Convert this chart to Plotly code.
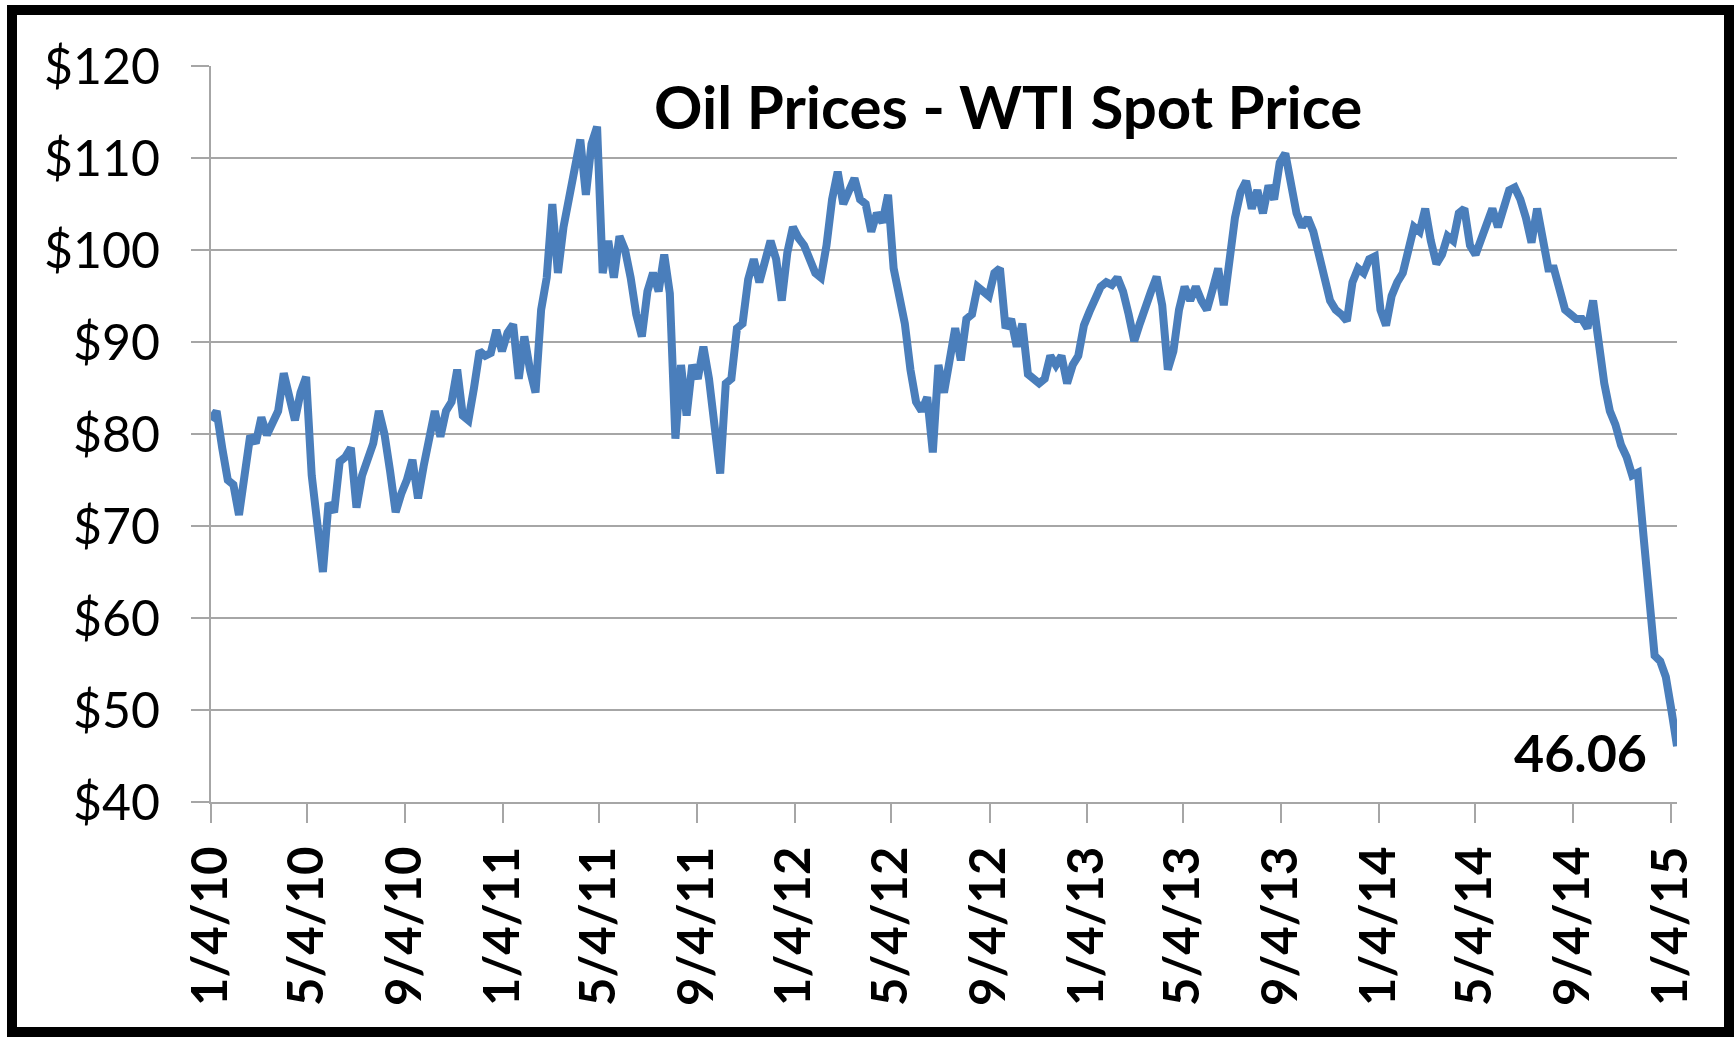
import pandas as pd
import plotly.graph_objects as go

# Weekly (Monday) WTI spot price readings, one list per year
wti_2010 = [81.5, 82.5, 78.5, 75.0,
            74.5, 71.2, 75.5, 79.8,
            79.0, 81.8, 79.9, 81.0, 82.5,
            86.6, 84.3, 81.5, 84.5,
            86.2, 75.5, 71.0, 65.0, 72.5,
            71.5, 77.0, 77.5, 78.5,
            72.0, 75.5, 77.0, 79.0,
            82.5, 80.0, 76.0, 71.5, 73.5,
            75.0, 77.2, 73.0, 76.5,
            80.0, 82.5, 79.7, 82.5,
            83.5, 87.0, 82.0, 81.5, 85.0,
            89.0, 88.5, 88.8, 91.3]
wti_2011 = [89.0, 91.0, 91.9, 86.0, 90.6,
            87.0, 84.5, 93.5, 97.0,
            105.0, 97.5, 102.5, 105.5,
            108.5, 112.0, 106.0, 111.5,
            113.4, 97.5, 101.0, 97.0, 101.5,
            100.0, 97.0, 93.0, 90.6,
            95.5, 97.5, 95.5, 99.5,
            95.3, 79.5, 87.5, 82.0, 87.5,
            86.0, 89.5, 86.0, 80.0,
            75.7, 85.5, 86.0, 91.5, 92.0,
            96.8, 99.0, 96.5, 99.0,
            101.0, 99.0, 94.5, 99.7]
wti_2012 = [102.5, 101.3, 100.5, 99.0, 97.5,
            97.0, 100.5, 105.5, 108.5,
            105.0, 106.5, 107.8, 105.5,
            105.0, 102.0, 104.0, 103.0, 106.0,
            98.0, 94.5, 92.0, 87.0,
            83.5, 82.5, 84.0, 78.0,
            87.5, 84.5, 88.5, 91.5, 88.0,
            92.5, 93.0, 96.0, 95.5,
            95.0, 97.5, 98.0, 91.5,
            92.5, 89.5, 92.0, 86.5, 86.0,
            85.5, 86.0, 88.5, 87.5,
            88.5, 85.5, 87.5, 88.5, 91.8]
wti_2013 = [93.3, 94.5, 96.0, 96.5,
            96.2, 97.0, 95.5, 93.0,
            90.1, 92.0, 93.5, 95.5,
            97.1, 94.0, 87.0, 89.0, 93.5,
            96.0, 94.5, 96.0, 94.5,
            93.5, 95.7, 98.0, 94.0,
            98.5, 103.5, 106.3, 107.5, 104.5,
            106.5, 104.0, 107.0, 105.5,
            109.5, 110.5, 107.5, 104.0, 102.5,
            103.5, 102.0, 99.0, 97.0,
            94.5, 93.5, 93.0, 92.3,
            96.5, 98.0, 97.5, 99.0, 99.3]
wti_2014 = [93.5, 91.8, 95.0, 96.5,
            97.5, 100.0, 102.5, 102.0,
            104.5, 101.0, 98.5, 99.5, 101.5,
            101.0, 104.0, 104.5, 100.5,
            99.5, 101.0, 103.0, 104.5,
            102.5, 104.5, 106.5, 106.8, 105.5,
            103.5, 100.8, 104.5, 101.5,
            98.0, 98.0, 95.5, 93.5,
            93.0, 92.5, 92.5, 91.5, 94.5,
            89.5, 85.5, 82.5, 81.0,
            78.8, 77.5, 75.5, 75.8,
            69.0, 63.1, 55.9, 55.3, 53.6]
wti_2015 = [50.0, 46.06]

tick_labels = ["1/4/10", "5/4/10", "9/4/10", "1/4/11", "5/4/11", "9/4/11",
               "1/4/12", "5/4/12", "9/4/12", "1/4/13", "5/4/13", "9/4/13",
               "1/4/14", "5/4/14", "9/4/14", "1/4/15"]

prices = wti_2010 + wti_2011 + wti_2012 + wti_2013 + wti_2014 + wti_2015
dates = pd.date_range("2010-01-04", "2015-01-12", freq="W-MON")
assert len(dates) == len(prices), (len(dates), len(prices))
df = pd.DataFrame({"Date": dates, "Price": prices})
tick_vals = pd.to_datetime(tick_labels, format="%m/%d/%y")

W, H = 1735, 1037
ML, MR, MT, MB = 211, 58, 66, 235
PW, PH = W - ML - MR, H - MT - MB
GRID = "#a6a6a6"
FONT = "Lato"

def px_to_paper(x, y):
    return (x - ML) / PW, 1 - (y - MT) / PH

fig = go.Figure()
fig.add_trace(go.Scatter(x=df["Date"], y=df["Price"], mode="lines",
                         line=dict(color="#4a7ebb", width=8)))

# value label on the last point
fig.add_annotation(x=df["Date"].iloc[-1], y=df["Price"].iloc[-1],
                   text=f"{df['Price'].iloc[-1]:.2f}", showarrow=False,
                   xanchor="right", yanchor="middle", xshift=-28, yshift=-6,
                   font=dict(family=FONT, size=52, color="black", weight="bold"))

tx, ty = px_to_paper(1008, 106)
fig.add_annotation(x=tx, y=ty, xref="paper", yref="paper", showarrow=False,
                   text="Oil Prices - WTI Spot Price", xanchor="center", yanchor="middle",
                   font=dict(family=FONT, size=60, color="black", weight="bold"))

# black frame round the chart
x0, y0 = px_to_paper(12, 10)
x1, y1 = px_to_paper(1729, 1032)
fig.add_shape(type="rect", xref="paper", yref="paper", x0=x0, y0=y1, x1=x1, y1=y0,
              line=dict(color="black", width=10))

fig.update_layout(
    width=W, height=H,
    margin=dict(l=ML, r=MR, t=MT, b=MB, pad=0),
    plot_bgcolor="white", paper_bgcolor="white",
    showlegend=False,
)
fig.update_xaxes(type="date", range=[df["Date"].iloc[0], df["Date"].iloc[-1]],
                 tickvals=tick_vals, ticktext=tick_labels, tickangle=-90,
                 showgrid=False, showline=True, linecolor=GRID, linewidth=2,
                 ticks="outside", ticklen=19, tickwidth=2, tickcolor=GRID,
                 ticklabelstandoff=4,
                 tickfont=dict(family=FONT, size=49, color="black", weight="bold"))
fig.update_yaxes(range=[40, 120], dtick=10, tickprefix="$",
                 showgrid=True, gridcolor=GRID, gridwidth=2, zeroline=False,
                 showline=True, linecolor=GRID, linewidth=2,
                 ticks="outside", ticklen=18, tickwidth=2, tickcolor=GRID,
                 ticklabelstandoff=21,
                 tickfont=dict(family=FONT, size=50, color="black"))

fig.write_html("out.html", config={"displayModeBar": False},
               post_script="document.body.style.margin='0';document.body.style.overflow='hidden';")
